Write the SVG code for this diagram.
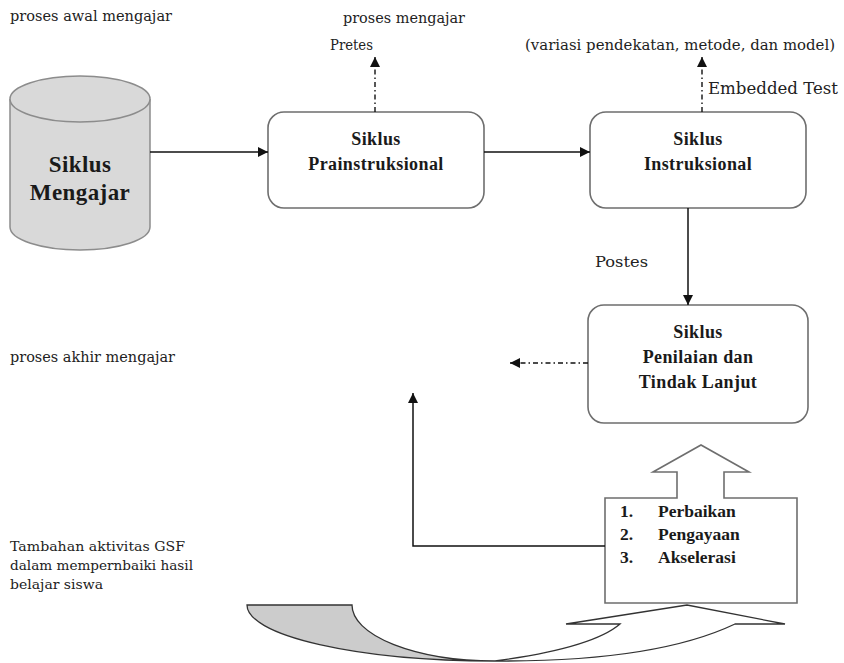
<svg xmlns="http://www.w3.org/2000/svg" width="844" height="663" viewBox="0 0 844 663">
<defs>
<style>
.t{font-family:"DejaVu Serif","Liberation Serif",serif;fill:#222;}
.tb{font-family:"Liberation Serif","Times New Roman",serif;fill:#1a1a1a;font-weight:bold;}
.n{font-size:14.6px;}
.b{font-size:18px;text-anchor:middle;letter-spacing:0.4px;}
.l{font-size:17.5px;}
.s{font-size:13px;}
.box{fill:#fff;stroke:#6e6e6e;stroke-width:1.6;}
.ln{fill:none;stroke:#111;stroke-width:1.5;}
.dd{fill:none;stroke:#111;stroke-width:1.4;stroke-dasharray:5 3 1.5 3;}
</style>
<marker id="ah" viewBox="0 0 10 10" refX="10" refY="5" markerWidth="10" markerHeight="10" markerUnits="userSpaceOnUse" orient="auto">
<path d="M0,0 L10,5 L0,10 Z" fill="#111"/>
</marker>
</defs>

<g id="labels">
<text class="t n" x="10" y="21" textLength="162" lengthAdjust="spacingAndGlyphs">proses awal mengajar</text>
<text class="t n" x="343" y="23" textLength="122" lengthAdjust="spacingAndGlyphs">proses mengajar</text>
<text class="t n" x="330" y="50" textLength="43" lengthAdjust="spacingAndGlyphs">Pretes</text>
<text class="t n" x="525" y="50" textLength="310" lengthAdjust="spacingAndGlyphs">(variasi pendekatan, metode, dan model)</text>
<text class="t n" x="708" y="94" style="font-size:16px" textLength="130" lengthAdjust="spacingAndGlyphs">Embedded Test</text>
<text class="t n" x="595" y="267" style="font-size:15.5px" textLength="53" lengthAdjust="spacingAndGlyphs">Postes</text>
<text class="t n" x="10" y="362" textLength="165" lengthAdjust="spacingAndGlyphs">proses akhir mengajar</text>
<text class="t s" x="10" y="551" textLength="175" lengthAdjust="spacingAndGlyphs">Tambahan aktivitas GSF</text>
<text class="t s" x="10" y="570" textLength="183" lengthAdjust="spacingAndGlyphs">dalam mempernbaiki hasil</text>
<text class="t s" x="10" y="589" textLength="93" lengthAdjust="spacingAndGlyphs">belajar siswa</text>
</g>

<g id="siklus-mengajar">
<path d="M10,99 L10,227 A70,23 0 0 0 150,227 L150,99" fill="#d9d9d9" stroke="#8c8c8c" stroke-width="1.5"/>
<ellipse cx="80" cy="99" rx="70" ry="23" fill="#d9d9d9" stroke="#8c8c8c" stroke-width="1.5"/>
<text class="tb b" x="80" y="172" style="font-size:23px">Siklus</text>
<text class="tb b" x="80" y="200" style="font-size:23px">Mengajar</text>
</g>

<g id="siklus-prainstruksional">
<rect class="box" x="268" y="112" width="216" height="96" rx="16"/>
<text class="tb b" x="376" y="145">Siklus</text>
<text class="tb b" x="376" y="170">Prainstruksional</text>
</g>

<g id="siklus-instruksional">
<rect class="box" x="590" y="112" width="216" height="96" rx="16"/>
<text class="tb b" x="698" y="145">Siklus</text>
<text class="tb b" x="698" y="170">Instruksional</text>
</g>

<g id="siklus-penilaian">
<rect class="box" x="588" y="305" width="220" height="118" rx="16"/>
<text class="tb b" x="698" y="338">Siklus</text>
<text class="tb b" x="698" y="363">Penilaian dan</text>
<text class="tb b" x="698" y="388">Tindak Lanjut</text>
</g>

<g id="tindak-lanjut-list">
<path class="box" d="M605,498 L677,498 L677,472 L653,472 L701,445 L749,472 L724,472 L724,498 L797,498 L797,603 L605,603 Z"/>
<text class="tb l" x="620" y="517">1.</text>
<text class="tb l" x="658" y="517">Perbaikan</text>
<text class="tb l" x="620" y="540">2.</text>
<text class="tb l" x="658" y="540">Pengayaan</text>
<text class="tb l" x="620" y="563">3.</text>
<text class="tb l" x="658" y="563">Akselerasi</text>
</g>

<g id="curved-arrow">
<path d="M247,605 L352,605 A143,56 0 0 0 495,661 A248,56 0 0 1 247,605 Z" fill="#cccccc" stroke="#333" stroke-width="1.3"/>
<path d="M495,661 Q655,662 735,624 L785,624 L687,605 L566,624 L620,624 Q592,648 495,661 Z" fill="#fff" stroke="#333" stroke-width="1.3"/>
</g>

<g id="connectors">
<line class="ln" x1="150" y1="152" x2="268" y2="152" marker-end="url(#ah)"/>
<line class="ln" x1="484" y1="152" x2="590" y2="152" marker-end="url(#ah)"/>
<line class="ln" x1="688" y1="208" x2="688" y2="305" marker-end="url(#ah)"/>
<line class="dd" x1="375" y1="112" x2="375" y2="57" marker-end="url(#ah)"/>
<line class="dd" x1="702" y1="112" x2="702" y2="57" marker-end="url(#ah)"/>
<line class="dd" x1="588" y1="363" x2="510" y2="363" marker-end="url(#ah)"/>
<polyline class="ln" points="605,546 413,546 413,393" marker-end="url(#ah)"/>
</g>
</svg>
